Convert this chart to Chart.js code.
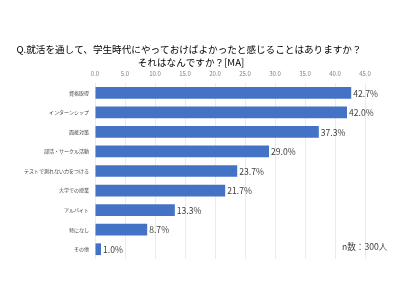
<!DOCTYPE html>
<html>
<head>
<meta charset="utf-8">
<script src="https://cdn.jsdelivr.net/npm/chart.js@4"></script>
<style>
  html, body { margin: 0; padding: 0; background: #fff; }
  #wrap { width: 400px; height: 300px; position: relative; }
</style>
</head>
<body>
<div id="wrap"><canvas id="chart" width="400" height="300"></canvas></div>
<script>
// categories and values
const categories = [
    '資格取得',
    'インターンシップ',
    '面接対策',
    '部活・サークル活動',
    'テストで測れない力をつける',
    '大学での授業',
    'アルバイト',
    '特になし',
    'その他'
];
const values = [42.7, 42.0, 37.3, 29.0, 23.7, 21.7, 13.3, 8.7, 1.0];
const titleLines = ['Q.就活を通して、学生時代にやっておけばよかったと感じることはありますか？', 'それはなんですか？[MA]'];
const sampleNote = 'n数：300人';

const jpFont = "'Noto Sans CJK JP', 'Noto Sans', sans-serif";

// title, value labels next to each bar, sample size note
const textPlugin = {
    id: 'texts',
    afterDatasetsDraw(chart) {
        const ctx = chart.ctx;
        const meta = chart.getDatasetMeta(0);
        ctx.save();
        ctx.fillStyle = '#000';
        ctx.font = "9.6px " + jpFont;
        ctx.textAlign = 'center';
        ctx.textBaseline = 'middle';
        ctx.fillText(titleLines[0], 189, 49);
        ctx.fillText(titleLines[1], 191, 62);

        ctx.font = "8.6px " + jpFont;
        ctx.fillStyle = '#404040';
        ctx.textAlign = 'left';
        meta.data.forEach((bar, i) => {
            ctx.fillText(values[i].toFixed(1) + '%', bar.x + 2, bar.y + 0.5);
        });
        ctx.font = "8.6px " + jpFont;
        ctx.fillText(sampleNote, 342, 247);
        ctx.restore();
    }
};

new Chart(document.getElementById('chart'), {
    type: 'bar',
    data: {
        labels: categories,
        datasets: [{
            data: values,
            backgroundColor: '#4472C4',
            borderWidth: 0,
            barPercentage: 0.6,
            categoryPercentage: 1.0
        }]
    },
    options: {
        indexAxis: 'y',
        responsive: false,
        animation: false,
        layout: {
            padding: { left: 0, right: 35, top: 66, bottom: 41 }
        },
        plugins: {
            legend: { display: false },
            tooltip: { enabled: false },
            title: { display: false }
        },
        scales: {
            x: {
                position: 'top',
                min: 0,
                max: 45,
                afterFit: s => { s.height = 17; },
                ticks: {
                    stepSize: 5,
                    color: '#808080',
                    font: { family: jpFont, size: 6 },
                    padding: 6,
                    callback: v => v.toFixed(1)
                },
                grid: { color: '#ebebeb', drawTicks: false },
                border: { display: false }
            },
            y: {
                afterFit: s => { s.width = 95; },
                ticks: {
                    color: '#404040',
                    font: { family: jpFont, size: 5 },
                    padding: 6
                },
                grid: { display: false, drawTicks: false },
                border: { display: false }
            }
        }
    },
    plugins: [textPlugin]
});
</script>
</body>
</html>
